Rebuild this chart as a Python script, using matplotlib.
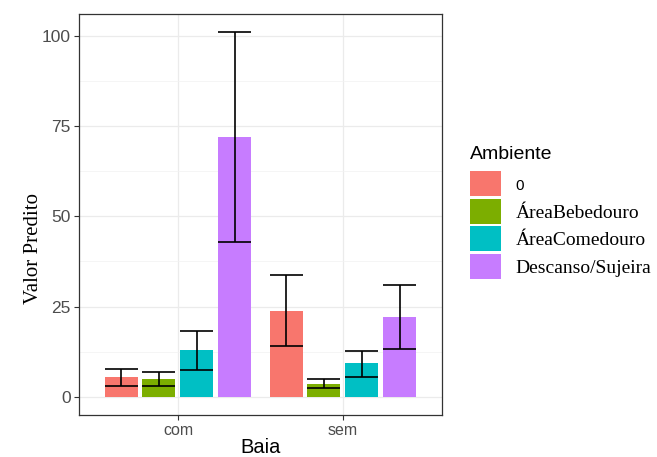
import numpy as np
import matplotlib
matplotlib.use('Agg')
import matplotlib.pyplot as plt
from matplotlib.patches import Patch

# data
baias = ['com', 'sem']
ambientes = ['0', 'ÁreaBebedouro', 'ÁreaComedouro', 'Descanso/Sujeira']
colors = ['#F8766D', '#7CAE00', '#00BFC4', '#C77CFF']

valor = {
    '0':                [5.5, 23.9],
    'ÁreaBebedouro':    [4.9, 3.5],
    'ÁreaComedouro':    [12.9, 9.3],
    'Descanso/Sujeira': [72.0, 22.2],
}
err_lo = {
    '0':                [3.1, 14.1],
    'ÁreaBebedouro':    [2.85, 2.3],
    'ÁreaComedouro':    [7.5, 5.45],
    'Descanso/Sujeira': [42.8, 13.2],
}
err_hi = {
    '0':                [7.8, 33.8],
    'ÁreaBebedouro':    [6.8, 4.8],
    'ÁreaComedouro':    [18.1, 12.8],
    'Descanso/Sujeira': [101.0, 31.1],
}
yticks = [0, 25, 50, 75, 100]

SANS = 'Liberation Sans'
SERIF = 'Liberation Serif'

fig = plt.figure(figsize=(6.57, 4.57), dpi=100)
ax = fig.add_axes([0.1202, 0.0919, 0.5525, 0.8775])

x = np.arange(1, len(baias) + 1)
dodge = 0.23
bar_w = 0.2
n = len(ambientes)

for i, amb in enumerate(ambientes):
    xs = x + (i - (n - 1) / 2) * dodge
    ax.bar(xs, valor[amb], width=bar_w, color=colors[i], zorder=2)
    ax.vlines(xs, err_lo[amb], err_hi[amb], color='black', lw=1.2, zorder=3)
    ax.hlines(err_lo[amb], xs - bar_w / 2, xs + bar_w / 2, color='black', lw=1.2, zorder=3)
    ax.hlines(err_hi[amb], xs - bar_w / 2, xs + bar_w / 2, color='black', lw=1.2, zorder=3)

ax.set_xlim(0.4, 2.6)
ax.set_ylim(-5.05, 106.05)
ax.set_xticks(x)
ax.set_xticklabels(baias, fontsize=11.5, color='#4D4D4D', family=SANS)
ax.set_yticks(yticks)
ax.set_yticklabels([str(t) for t in yticks], fontsize=12.5, color='#4D4D4D', family=SANS)
ax.set_yticks(np.arange(12.5, 100, 25), minor=True)
ax.tick_params(axis='both', which='major', length=3.5, width=0.8, color='#333333', pad=2.5)
ax.tick_params(axis='y', which='minor', length=0)

ax.grid(which='major', color='#EBEBEB', lw=0.9, zorder=0)
ax.grid(which='minor', axis='y', color='#F2F2F2', lw=0.5, zorder=0)
ax.set_axisbelow(True)
for s in ax.spines.values():
    s.set_color('#333333')
    s.set_linewidth(0.9)

ax.set_xlabel('Baia', fontsize=14.5, family=SANS, color='black', labelpad=0)
ax.set_ylabel('Valor Predito', fontsize=15, family=SERIF, color='black', labelpad=4)
ax.yaxis.set_label_coords(-0.1, 0.416)

handles = [Patch(facecolor=c, edgecolor='none') for c in colors]
leg = fig.legend(handles, ambientes, loc='upper left', bbox_to_anchor=(0.7034, 0.698),
                 frameon=False, fontsize=14, handlelength=1.6, handleheight=1.6,
                 labelspacing=0.13, handletextpad=0.75, borderaxespad=0,
                 title='Ambiente', title_fontproperties={'family': SANS, 'size': 14})
leg._legend_box.align = 'left'
leg._legend_box.sep = 6
for i, t in enumerate(leg.get_texts()):
    if i == 0:
        t.set_family(SANS)
        t.set_fontsize(11)
    else:
        t.set_family(SERIF)
        t.set_fontsize(14)

fig.savefig('out.png', dpi=100)
